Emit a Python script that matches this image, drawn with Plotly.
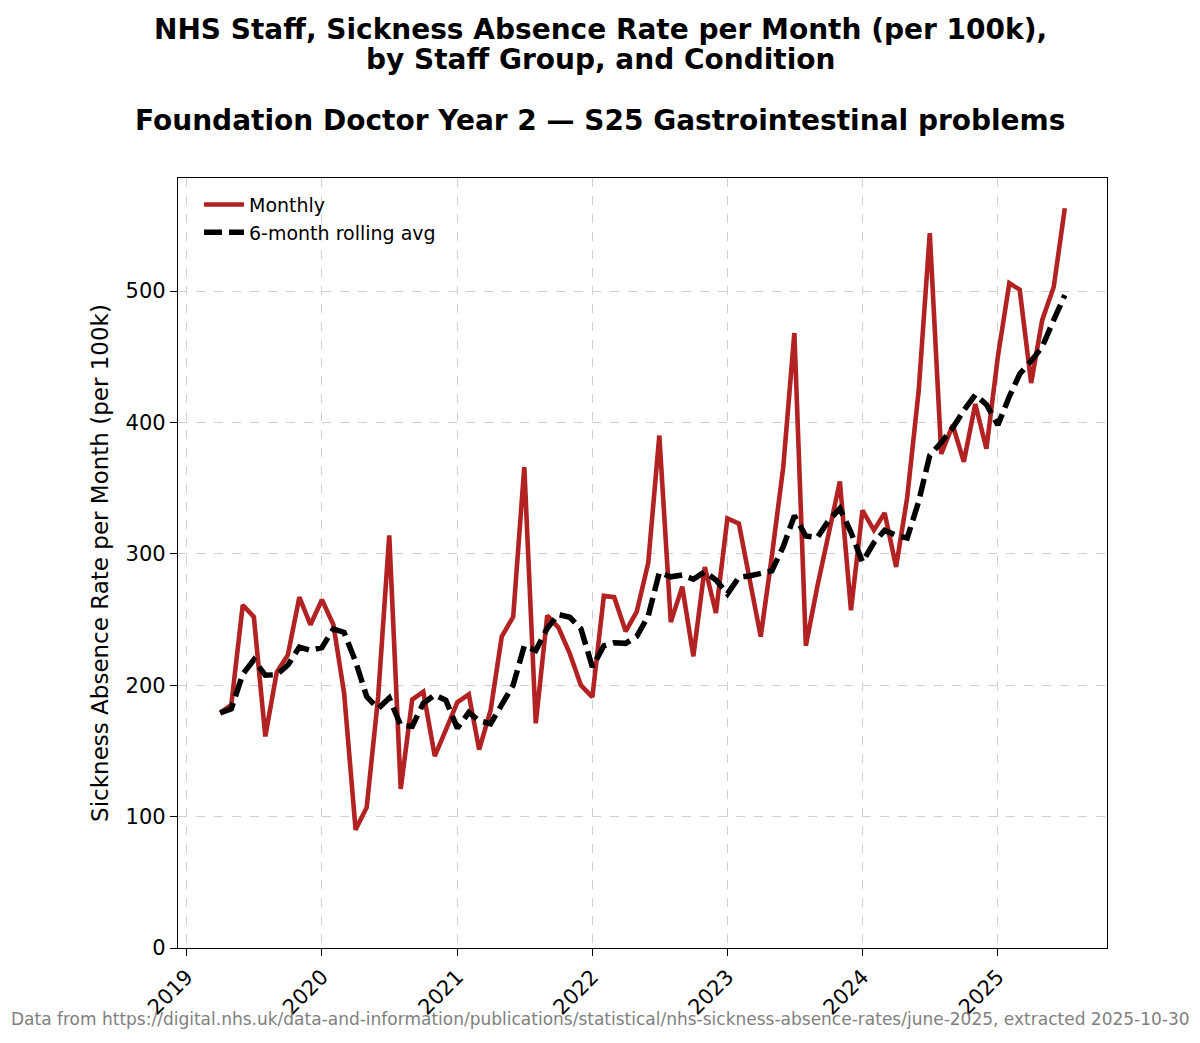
import numpy as np
import pandas as pd
import plotly.graph_objects as go

# monthly sickness absence rate per 100k, Apr 2019 .. Jul 2025
months = pd.date_range("2019-04-01", periods=76, freq="MS")
monthly = [
    179, 185, 261, 252, 161, 210, 223, 267, 246, 265, 246, 194,
    90, 107, 191, 314, 121, 189, 195, 146, 166, 187, 193, 151,
    181, 237, 252, 366, 171, 253, 244, 224, 200, 191, 268, 267,
    241, 256, 293, 390, 248, 275, 222, 290, 255, 327, 323, 282,
    237, 298, 366, 468, 230, 275, 313, 355, 257, 333, 318, 331,
    290, 343, 424, 544, 376, 398, 370, 414, 380, 450, 506, 501,
    430, 478, 503, 563,
]
rolling = pd.Series(monthly).rolling(6, min_periods=1).mean()

title_lines = [
    "NHS Staff, Sickness Absence Rate per Month (per 100k),",
    "by Staff Group, and Condition",
    "Foundation Doctor Year 2 — S25 Gastrointestinal problems",
]
source = ("Data from https://digital.nhs.uk/data-and-information/publications/statistical/"
          "nhs-sickness-absence-rates/june-2025, extracted 2025-10-30")

FONT = "DejaVu Sans"

fig = go.Figure()
fig.add_trace(go.Scatter(
    x=months, y=monthly, mode="lines", name="Monthly",
    line=dict(color="#b22222", width=4.6),
))
fig.add_trace(go.Scatter(
    x=months, y=rolling, mode="lines", name="6-month rolling avg",
    line=dict(color="black", width=5.5, dash="18px,7px"),
))

# page has an 8px body margin; plot area ends up at x 178..1107, y 178..948
def ypaper(px):
    return (948 - px) / 770

def xpaper(px):
    return (px - 178) / 929

annots = []
for txt, ypx in zip(title_lines, [29, 59, 121]):
    annots.append(dict(
        text="<b>%s</b>" % txt, x=xpaper(600), xref="paper", xanchor="center",
        y=ypaper(ypx), yref="paper", yanchor="middle", showarrow=False,
        font=dict(family=FONT, size=28, color="black"),
    ))
annots.append(dict(
    text=source, x=xpaper(600), xref="paper", xanchor="center",
    y=ypaper(1019), yref="paper", yanchor="middle", showarrow=False,
    font=dict(family=FONT, size=17, color="#808080"),
))

fig.update_layout(
    width=1184, height=1027,
    margin=dict(l=170, r=85, t=170, b=87),
    paper_bgcolor="white", plot_bgcolor="white",
    font=dict(family=FONT, size=21, color="black"),
    annotations=annots,
    showlegend=True,
    legend=dict(x=xpaper(199), y=0.99, xanchor="left", yanchor="top",
                bgcolor="rgba(255,255,255,0)", font=dict(size=19),
                tracegroupgap=0, itemwidth=40),
)
fig.update_xaxes(
    range=["2018-12-08", "2025-10-23"],
    tick0="2019-01-01", dtick="M12", tickformat="%Y", tickangle=-45,
    ticks="outside", ticklen=7, tickwidth=1.3, tickcolor="black",
    showline=True, linecolor="black", linewidth=1.3, mirror=True,
    showgrid=True, gridcolor="#d0d0d0", griddash="dash", gridwidth=1,
    tickfont=dict(size=21), zeroline=False,
)
fig.update_yaxes(
    range=[0, 586], dtick=100,
    title=dict(text="Sickness Absence Rate per Month (per 100k)", font=dict(size=23), standoff=10),
    ticks="outside", ticklen=7, tickwidth=1.3, tickcolor="black",
    showline=True, linecolor="black", linewidth=1.3, mirror=True,
    showgrid=True, gridcolor="#d0d0d0", griddash="dash", gridwidth=1,
    tickfont=dict(size=21), zeroline=False,
)

fig.write_html("out.html")
